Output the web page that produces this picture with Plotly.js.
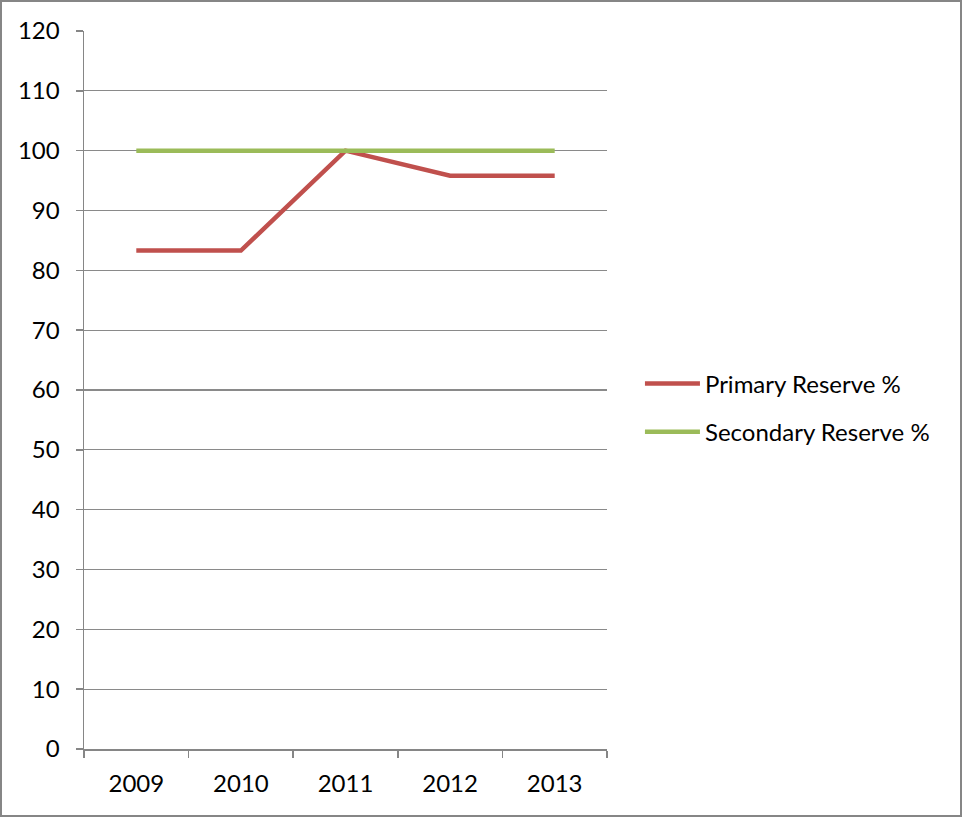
<!DOCTYPE html>
<html>
<head>
<meta charset="utf-8">
<script src="https://cdn.plot.ly/plotly-3.0.1.min.js"></script>
<style>
  html, body { margin: 0; padding: 0; background: #fff; }
  #wrap { position: relative; width: 962px; height: 817px; }
  #chart { width: 962px; height: 817px; }
  #frame { position: absolute; left: 0; top: 0; width: 962px; height: 817px; box-sizing: border-box; border: 2px solid #868686; pointer-events: none; }
</style>
</head>
<body>
<div id="wrap"><div id="chart"></div><div id="frame"></div></div>
<script>
const years = ["2009", "2010", "2011", "2012", "2013"];
const primaryReserve = [83.3, 83.3, 100, 95.8, 95.8];
const secondaryReserve = [100, 100, 100, 100, 100];
const yTicks = [0, 10, 20, 30, 40, 50, 60, 70, 80, 90, 100, 110, 120];

const font = "Lato, 'Open Sans', 'Liberation Sans', sans-serif";
const fs = 24;

const traces = [
  { x: years, y: primaryReserve, name: "Primary Reserve %", type: "scatter", mode: "lines",
    line: { color: "#C0504D", width: 4.5 }, legendgroup: "a" },
  { x: years, y: secondaryReserve, name: "Secondary Reserve %", type: "scatter", mode: "lines",
    line: { color: "#9BBB59", width: 4.5 }, legendgroup: "b" }
];

const layout = {
  width: 962, height: 817,
  margin: { l: 84, r: 355, t: 31, b: 68 },
  paper_bgcolor: "#ffffff", plot_bgcolor: "#ffffff",
  font: { family: font, size: fs, color: "#000" },
  showlegend: true,
  legend: { x: 1.063, y: 0.475, xanchor: "left", yanchor: "middle",
    font: { family: font, size: fs, color: "#000" }, itemwidth: 55,
    traceorder: "grouped", tracegroupgap: 14, bgcolor: "rgba(0,0,0,0)" },
  xaxis: {
    type: "category", range: [-0.5, 4.5], tickson: "boundaries",
    showline: true, linecolor: "#868686", linewidth: 1.5,
    ticks: "outside", ticklen: 7, tickcolor: "#868686", tickwidth: 1.5,
    ticklabelstandoff: 13,
    showgrid: false, zeroline: false,
    tickfont: { family: font, size: fs, color: "#000" }
  },
  yaxis: {
    range: [0, 120], tickmode: "array", tickvals: yTicks, ticktext: yTicks.map(String),
    showline: true, linecolor: "#868686", linewidth: 1.5,
    ticks: "outside", ticklen: 7, tickcolor: "#868686", tickwidth: 1.5,
    ticklabelstandoff: 11,
    showgrid: true, gridcolor: "#8a8a8a", gridwidth: 1.2, zeroline: false,
    tickfont: { family: font, size: fs, color: "#000" }
  }
};

Plotly.newPlot("chart", traces, layout, { displayModeBar: false, staticPlot: true });
</script>
</body>
</html>
